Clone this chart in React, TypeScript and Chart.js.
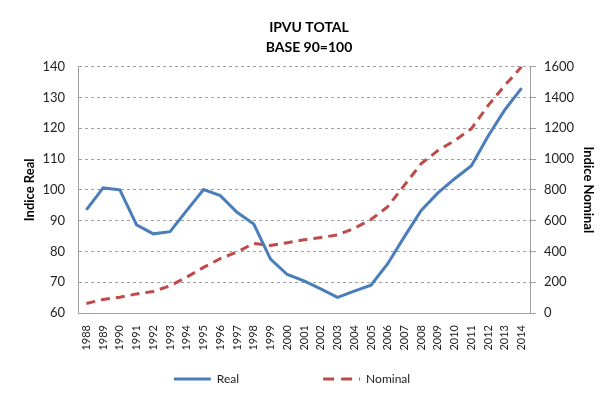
import React, { useEffect, useRef } from "react";
import { Chart, registerables } from "chart.js";

Chart.register(...registerables);

const years = [
  "1988", "1989", "1990", "1991", "1992", "1993", "1994", "1995", "1996", "1997",
  "1998", "1999", "2000", "2001", "2002", "2003", "2004", "2005", "2006", "2007",
  "2008", "2009", "2010", "2011", "2012", "2013", "2014",
];

const realValues = [
  93.5, 100.6, 100, 88.6, 85.7, 86.4, 93.3, 100.1, 98.1, 92.7,
  88.9, 77.5, 72.5, 70.4, 67.8, 65.1, 67.1, 69, 76, 84.8,
  93.3, 99, 103.6, 107.8, 117.5, 126, 133,
];

const nominalValues = [
  62, 88, 102, 124, 140, 177, 233, 296, 353, 396,
  452, 438, 456, 475, 490, 507, 550, 607, 690, 830,
  970, 1055, 1120, 1197, 1348, 1478, 1600,
];

const titleLines = ["IPVU TOTAL", "BASE 90=100"];

const FONT = "Lato, 'Open Sans', sans-serif";

// Custom bottom legend: wide spacing between items like the original
const wideLegend = {
  id: "wideLegend",
  afterDraw(chart: any) {
    const ctx = chart.ctx;
    const area = chart.chartArea;
    const y = chart.height - 20;
    const lineLen = 37;
    const gapText = 6;
    const itemGap = 84;
    ctx.save();
    ctx.font = `12px ${FONT}`;
    const items = chart.data.datasets.map((ds: any) => ({
      label: ds.label,
      color: ds.borderColor,
      dash: ds.borderDash ? [11, 7] : [],
      w: lineLen + gapText + ctx.measureText(ds.label).width,
    }));
    const total = items.reduce((s: number, it: any) => s + it.w, 0) + itemGap * (items.length - 1);
    let x = (area.left + area.right) / 2 - total / 2 - 12;
    for (const it of items) {
      ctx.strokeStyle = it.color;
      ctx.lineWidth = 3;
      ctx.setLineDash(it.dash);
      ctx.beginPath();
      ctx.moveTo(x, y);
      ctx.lineTo(x + lineLen, y);
      ctx.stroke();
      ctx.setLineDash([]);
      ctx.fillStyle = "#222";
      ctx.textBaseline = "middle";
      ctx.textAlign = "left";
      ctx.fillText(it.label, x + lineLen + gapText, y);
      x += it.w + itemGap;
    }
    ctx.restore();
  },
};

export default function App() {
  const ref = useRef<HTMLCanvasElement | null>(null);

  useEffect(() => {
    document.body.style.margin = "0";
    const canvas = ref.current;
    if (!canvas) return;
    const chart = new Chart(canvas, {
      type: "line",
      data: {
        labels: years,
        datasets: [
          {
            label: "Real",
            data: realValues,
            borderColor: "#4a7ebb",
            backgroundColor: "#4a7ebb",
            borderWidth: 3,
            pointRadius: 0,
            tension: 0,
            yAxisID: "y",
          },
          {
            label: "Nominal",
            data: nominalValues,
            borderColor: "#be4b48",
            backgroundColor: "#be4b48",
            borderWidth: 3,
            borderDash: [9, 6],
            pointRadius: 0,
            tension: 0,
            yAxisID: "y1",
          },
        ],
      },
      plugins: [wideLegend],
      options: {
        animation: false,
        responsive: false,
        maintainAspectRatio: false,
        layout: { padding: { top: 3, left: 20, right: 13, bottom: 48 } },
        plugins: {
          title: {
            display: true,
            text: titleLines,
            color: "#000",
            font: { family: FONT, size: 14, weight: "bold", lineHeight: 1.45 },
            padding: { top: 14, bottom: 9 },
          },
          legend: { display: false },
          tooltip: { enabled: false },
        },
        scales: {
          x: {
            offset: true,
            afterFit: (s: any) => { s.height = 38; },
            grid: { display: false, drawTicks: false },
            border: { display: true, color: "#a0a0a0", width: 1 },
            ticks: {
              color: "#222",
              font: { family: FONT, size: 11 },
              maxRotation: 90,
              minRotation: 90,
              autoSkip: false,
              padding: 12,
            },
          },
          y: {
            position: "left",
            min: 60,
            max: 140,
            afterFit: (s: any) => { s.width = 58; },
            ticks: {
              stepSize: 10,
              color: "#222",
              font: { family: FONT, size: 13 },
              padding: 13,
            },
            grid: {
              color: "#a0a0a0",
              drawTicks: false,
            },
            border: { display: true, color: "#a0a0a0", dash: [3, 3] },
            title: {
              display: true,
              text: "Indice Real",
              color: "#000",
              font: { family: FONT, size: 13, weight: "bold" },
              padding: { top: 2, bottom: 6 },
            },
          },
          y1: {
            position: "right",
            min: 0,
            max: 1600,
            afterFit: (s: any) => { s.width = 68; },
            ticks: {
              stepSize: 200,
              color: "#222",
              font: { family: FONT, size: 13 },
              padding: 8,
              callback: (v: any) => String(v),
            },
            grid: { display: true, drawOnChartArea: false, color: "#a0a0a0", tickLength: 6 },
            border: { display: true, color: "#a0a0a0" },
            title: {
              display: true,
              text: "Indice Nominal",
              color: "#000",
              font: { family: FONT, size: 13, weight: "bold" },
              padding: { top: 2, bottom: 6 },
            },
          },
        },
      },
    } as any);
    return () => chart.destroy();
  }, []);

  return <canvas ref={ref} width={611} height={399} style={{ display: "block" }} />;
}
